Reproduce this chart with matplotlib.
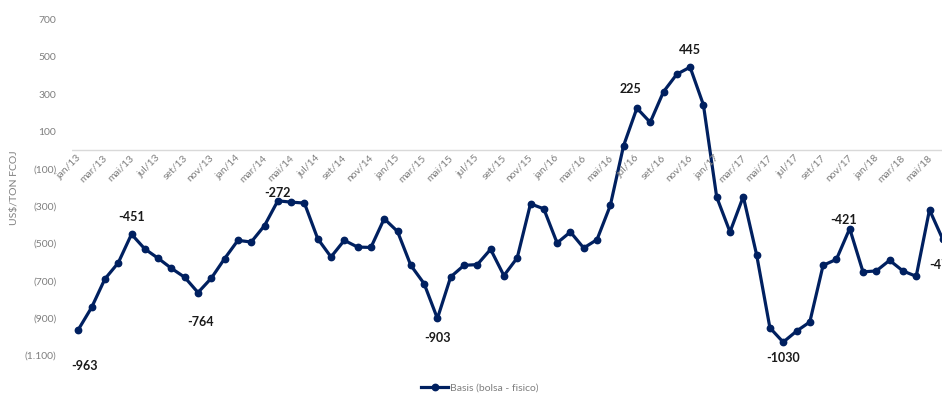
import matplotlib
matplotlib.use("Agg")
import matplotlib.pyplot as plt

months = ["jan", "fev", "mar", "abr", "mai", "jun", "jul", "ago", "set", "out", "nov", "dez"]
years = [13, 14, 15, 16, 17, 18]
categories = [f"{m}/{y}" for y in years for m in months][:66]

basis = [-963, -844, -691, -605, -451, -530, -580, -634, -682, -764,
         -687, -582, -484, -493, -405, -272, -279, -284, -475, -573,
         -484, -520, -522, -368, -436, -618, -716, -903, -680, -618,
         -614, -532, -673, -578, -288, -315, -498, -439, -525, -480,
         -297, 24, 225, 149, 313, 407, 445, 243, -252, -439,
         -249, -561, -953, -1030, -971, -922, -618, -586, -421, -653,
         -648, -591, -648, -677, -320, -479]

# annotated points: index -> (dx px, dy px)
annot_idx = [0, 4, 9, 15, 27, 42, 46, 53, 58, 65]
annot_off = [(6, -36), (0, 17), (3, -29), (0, 8), (0, -20), (-6, 19), (0, 17), (0, -16), (-6, 9), (0, -26)]

yticks = [700, 500, 300, 100, -100, -300, -500, -700, -900, -1100]

W, H = 942, 394
fig = plt.figure(figsize=(W / 100, H / 100), dpi=100)
step = 13.3
left_px = 78.3 - step / 2
n = len(basis)
ax = fig.add_axes([left_px / W, (H - 355.2) / H, n * step / W, (355.2 - 19.6) / H])

navy = "#002060"
gray = "#7f7f7f"
font = "Lato"

x = list(range(n))
ax.plot(x, basis, color=navy, lw=2.3, marker="o", ms=4.6, label="Basis (bolsa - fisico)", zorder=3)
ax.axhline(0, color="#d9d9d9", lw=1.0, zorder=1)

ax.set_xlim(-0.5, n - 0.5)
ax.set_ylim(-1100, 700)
for s in ax.spines.values():
    s.set_visible(False)

ax.set_yticks(yticks)
def fmt(v):
    s = f"{abs(v):,}".replace(",", ".")
    return f"({s})" if v < 0 else s
ax.set_yticklabels([fmt(v) for v in yticks], color=gray, fontsize=7.5, family=font)
ax.tick_params(axis="y", length=0, pad=11)
ax.set_xticks([])

# category labels along zero line
for i in range(0, n, 2):
    ax.annotate(categories[i], xy=(i, 0), xytext=(4, -3), textcoords="offset pixels",
                rotation=45, ha="right", va="top", fontsize=7.5, color=gray, family=font)

for i, (dx, dy) in zip(annot_idx, annot_off):
    ax.annotate(str(basis[i]), xy=(i, basis[i]), xytext=(dx, dy), textcoords="offset pixels",
                ha="center", va="center", fontsize=9, fontweight="bold", color="#1a1a1a",
                family=font, annotation_clip=False)

fig.text(15 / W, 1 - 188 / H, "US$/TON FCOJ", rotation=90, ha="center", va="center",
         fontsize=7.5, color=gray, family=font)

fig.legend(loc="center", bbox_to_anchor=(480 / W, 1 - 388 / H), frameon=False,
           prop={"family": font, "size": 7.5}, labelcolor=gray, handlelength=2.6,
           handletextpad=0.2, borderpad=0)

fig.savefig("out.png", dpi=100)
